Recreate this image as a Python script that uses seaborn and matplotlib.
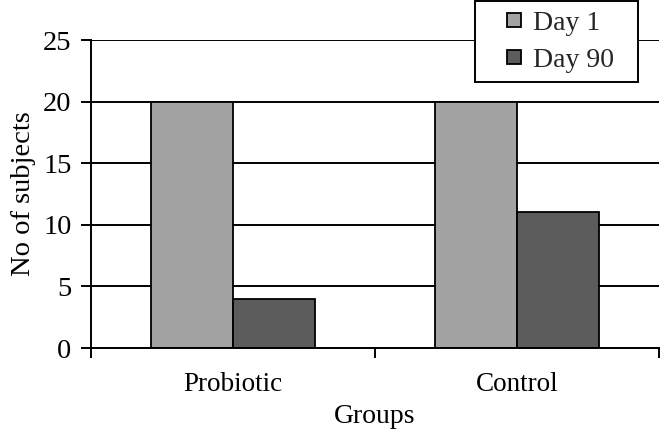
import pandas as pd
import seaborn as sns
import matplotlib.pyplot as plt
from matplotlib.patches import Rectangle
from matplotlib.legend_handler import HandlerPatch

# data
groups = ["Probiotic", "Control"]
days = ["Day 1", "Day 90"]
day1_counts = [20, 20]
day90_counts = [4, 11]

df = pd.DataFrame({
    "Groups": groups * 2,
    "Day": [days[0]] * 2 + [days[1]] * 2,
    "Subjects": day1_counts + day90_counts,
})


# small square legend key sitting at the right end of the handle box
class SquareKey(HandlerPatch):
    def create_artists(self, legend, orig_handle, xdescent, ydescent,
                       width, height, fontsize, trans):
        s = 0.5 * fontsize
        p = Rectangle((-xdescent + width - s, -ydescent + (height - s) / 2), s, s,
                      facecolor=orig_handle.get_facecolor(), edgecolor="black",
                      linewidth=1.3, transform=trans)
        return [p]


sns.set_theme(style="white")
plt.rcParams['font.family'] = ['Liberation Serif', 'DejaVu Serif']

fig = plt.figure(figsize=(6.61, 4.36), dpi=100)
ax = fig.add_axes([91 / 661, 1 - 348 / 436, 568 / 661, 308 / 436])

sns.barplot(data=df, x="Groups", y="Subjects", hue="Day", ax=ax,
            palette=["#a3a3a3", "#5c5c5c"], width=0.575, gap=0,
            edgecolor="black", linewidth=1.3, saturation=1)

ax.set_ylim(0, 25)
ax.set_xlim(-0.5, 1.5)
ax.set_yticks(range(0, 26, 5))
ax.grid(axis="y", color="black", linewidth=1.4)
ax.set_axisbelow(True)

for s in ["top", "right"]:
    ax.spines[s].set_visible(False)
for s in ["left", "bottom"]:
    ax.spines[s].set_color("black")
    ax.spines[s].set_linewidth(1.4)

ax.set_xticks([-0.5, 0.5, 1.5], minor=True)
ax.tick_params(axis="x", which="major", length=0, labelsize=19.5, pad=17, colors="black")
ax.tick_params(axis="x", which="minor", length=7, width=1.4, direction="out", color="black", bottom=True)
ax.tick_params(axis="y", length=7, width=1.4, direction="out", labelsize=20.5, pad=7, colors="black", left=True)

ax.set_xlabel("Groups", fontsize=20, labelpad=5, color="black")
ax.set_ylabel("No of subjects", fontsize=20.5, labelpad=5, color="black")

handles, labels = ax.get_legend_handles_labels()
leg = ax.legend(handles, [l + "  " for l in labels],
                loc="upper right", bbox_to_anchor=(638 / 661, 1 - 1 / 436),
                bbox_transform=fig.transFigure, fontsize=20, frameon=True,
                fancybox=False, framealpha=1, edgecolor="black",
                handlelength=1.3, handleheight=0.7, handletextpad=0.45,
                borderpad=0.35, labelspacing=0.4, borderaxespad=0,
                handler_map={h: SquareKey() for h in handles})
leg.get_frame().set_linewidth(1.4)

fig.savefig("out.png", dpi=100)
